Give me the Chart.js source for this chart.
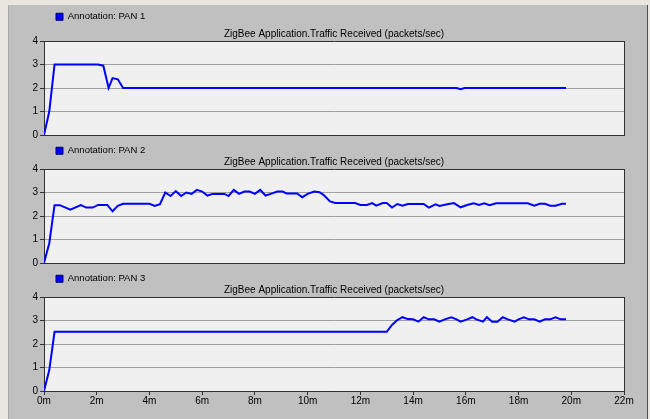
<!DOCTYPE html>
<html>
<head>
<meta charset="utf-8">
<script src="https://cdn.jsdelivr.net/npm/chart.js@4.4.1/dist/chart.umd.min.js"></script>
<style>
  html, body { margin: 0; padding: 0; width: 650px; height: 419px; overflow: hidden; background: #e8e6de; }
  #frame { position: absolute; left: 8px; top: 5px; width: 638px; height: 414px; background: #c0c0c0;
           border-left: 1px solid #a8a8a8; border-right: 1px solid #505050; }
  canvas { position: absolute; left: 9px; }
</style>
</head>
<body>
<div id="frame"></div>
<canvas id="pan1" width="637" height="140" style="top:0px"></canvas>
<canvas id="pan2" width="637" height="134" style="top:134px"></canvas>
<canvas id="pan3" width="637" height="157" style="top:262px"></canvas>
<script>
// time in minutes, traffic received in packets/sec
var pan1Time   = [0, 0.2, 0.4, 2.05, 2.25, 2.45, 2.6, 2.8, 3.0, 15.65, 15.8, 15.95, 19.8];
var pan1Values = [0, 1.0, 3.0, 3.0, 2.95, 2.0, 2.42, 2.37, 2.0, 2.0, 1.95, 2.0, 2.0];

var pan2Time   = [0, 0.2, 0.4, 0.6, 1.0, 1.4, 1.6, 1.85, 2.05, 2.4, 2.6, 2.8, 3.0, 4.0, 4.2, 4.4, 4.6, 4.8, 5.0, 5.2,
                  5.4, 5.6, 5.8, 6.0, 6.2, 6.4, 6.85, 7.0, 7.2, 7.4, 7.6, 7.8, 8.0, 8.2, 8.4, 8.6, 8.85, 9.05, 9.2, 9.6,
                  9.8, 10.0, 10.25, 10.45, 10.6, 10.85, 11.05, 11.8, 12.0, 12.25, 12.45, 12.6, 12.85, 13.0, 13.2, 13.4,
                  13.6, 13.8, 14.4, 14.6, 14.85, 15.0, 15.3, 15.55, 15.8, 16.05, 16.3, 16.5, 16.7, 16.9, 17.15, 18.35,
                  18.6, 18.8, 19.0, 19.2, 19.4, 19.65, 19.8];
var pan2Values = [0, 0.84, 2.46, 2.46, 2.27, 2.46, 2.36, 2.36, 2.47, 2.47, 2.2, 2.43, 2.52, 2.52, 2.43, 2.5, 3.0, 2.85, 3.06, 2.85,
                  3.0, 2.94, 3.11, 3.04, 2.87, 2.94, 2.94, 2.85, 3.11, 2.94, 3.04, 3.04, 2.94, 3.11, 2.87, 2.94, 3.04, 3.04, 2.96, 2.96,
                  2.8, 2.94, 3.04, 3.01, 2.9, 2.62, 2.55, 2.55, 2.47, 2.47, 2.55, 2.44, 2.55, 2.55, 2.36, 2.51,
                  2.44, 2.51, 2.51, 2.36, 2.5, 2.43, 2.5, 2.55, 2.37, 2.47, 2.54, 2.47, 2.54, 2.46, 2.54, 2.54,
                  2.44, 2.52, 2.52, 2.44, 2.44, 2.52, 2.52];

var pan3Time   = [0, 0.2, 0.4, 13.0, 13.2, 13.4, 13.6, 13.8, 14.0, 14.2, 14.4, 14.6, 14.8, 15.0, 15.2, 15.45, 15.65, 15.8, 16.05,
                  16.25, 16.4, 16.65, 16.8, 17.0, 17.2, 17.4, 17.6, 17.85, 18.0, 18.2, 18.4, 18.6, 18.8, 19.0, 19.2, 19.4, 19.6, 19.8];
var pan3Values = [0, 0.89, 2.52, 2.52, 2.81, 3.02, 3.14, 3.06, 3.05, 2.95, 3.14, 3.05, 3.05, 2.95, 3.05, 3.14, 3.05, 2.95, 3.05,
                  3.14, 3.05, 2.95, 3.14, 2.95, 2.95, 3.14, 3.05, 2.95, 3.05, 3.14, 3.05, 3.05, 2.95, 3.05, 3.05, 3.14, 3.05, 3.05];

var yMax = 4;
var xMax = 22;
var xStep = 2;
var chartTitle = 'ZigBee Application.Traffic Received (packets/sec)';

var FONT = "'Liberation Sans', Arial, sans-serif";
var DARK = '#303030';

// light plot background
var plotBg = {
    id: 'plotBg',
    beforeDraw: function(chart) {
        var a = chart.chartArea, c = chart.ctx;
        c.save();
        c.fillStyle = '#f0f0f0';
        c.fillRect(a.left, a.top, a.right - a.left, a.bottom - a.top);
        c.restore();
    }
};

function makePanel(id, times, values, name, legendMax, showX) {
    var points = times.map(function(t, i) { return {x: t, y: values[i]}; });
    return new Chart(document.getElementById(id), {
        type: 'line',
        data: {
            datasets: [{
                label: name,
                data: points,
                borderColor: '#0000ff',
                backgroundColor: '#0000ff',
                borderWidth: 2,
                pointRadius: 0,
                tension: 0,
                fill: false
            }]
        },
        options: {
            responsive: false,
            animation: false,
            layout: { padding: { left: 0, right: 22, top: 0, bottom: 0 } },
            plugins: {
                tooltip: { enabled: false },
                legend: {
                    position: 'top',
                    align: 'start',
                    fullSize: false,
                    weight: 3000,
                    maxHeight: legendMax,
                    labels: {
                        boxWidth: 7,
                        boxHeight: 7,
                        padding: 12,
                        color: '#000',
                        font: { family: FONT, size: 9.5 },
                        generateLabels: function(chart) {
                            var items = Chart.defaults.plugins.legend.labels.generateLabels(chart);
                            items.forEach(function(it) { it.strokeStyle = '#000060'; it.lineWidth = 1; });
                            return items;
                        }
                    }
                },
                title: {
                    display: true,
                    text: chartTitle,
                    fullSize: false,
                    color: '#000',
                    padding: { top: 0, bottom: 1 },
                    font: { family: FONT, size: 10, weight: 'normal', lineHeight: 1.2 }
                }
            },
            scales: {
                x: {
                    type: 'linear',
                    min: 0,
                    max: xMax,
                    border: { color: DARK },
                    grid: {
                        color: function(ctx) { return ctx.tick && ctx.tick.value === xMax ? DARK : 'rgba(0,0,0,0)'; },
                        tickColor: DARK,
                        tickLength: 4,
                        drawTicks: showX
                    },
                    ticks: {
                        display: showX,
                        stepSize: xStep,
                        padding: 0,
                        maxRotation: 0,
                        color: '#000',
                        font: { family: FONT, size: 10 },
                        callback: function(v) { return v + 'm'; }
                    },
                    afterFit: function(s) {
                        s.height = showX ? 28 : 5;
                        s.paddingLeft = 0;
                        s.paddingRight = 0;
                    }
                },
                y: {
                    min: 0,
                    max: yMax,
                    border: { color: DARK },
                    grid: {
                        color: function(ctx) {
                            var v = ctx.tick && ctx.tick.value;
                            return (v === 0 || v === yMax) ? DARK : '#a0a0a0';
                        },
                        tickColor: DARK,
                        tickLength: 4
                    },
                    ticks: {
                        stepSize: 1,
                        padding: 2,
                        color: '#000',
                        font: { family: FONT, size: 10 }
                    },
                    afterFit: function(s) {
                        s.width = 35;
                        s.paddingTop = 0;
                        s.paddingBottom = 0;
                    }
                }
            }
        },
        plugins: [plotBg]
    });
}

makePanel('pan1', pan1Time, pan1Values, 'Annotation: PAN 1', 28, false);
makePanel('pan2', pan2Time, pan2Values, 'Annotation: PAN 2', 22, false);
makePanel('pan3', pan3Time, pan3Values, 'Annotation: PAN 3', 22, true);
</script>
</body>
</html>
